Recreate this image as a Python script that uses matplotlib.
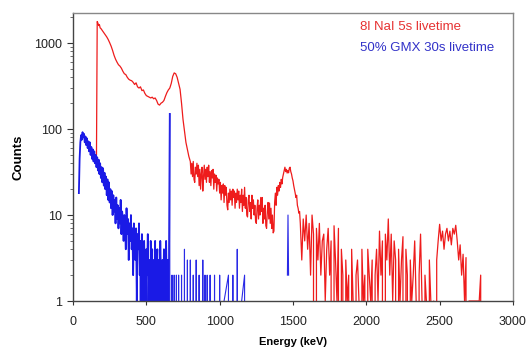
import numpy as np
import matplotlib
matplotlib.use("Agg")
import matplotlib.pyplot as plt
from matplotlib.ticker import LogLocator, FixedLocator, NullFormatter

plt.rcParams['font.family'] = ['Liberation Sans', 'DejaVu Sans']

# ---------------- data ----------------
# 8l NaI spectrum (5 s live time): energy (keV) and counts
nai_energy = ([160, 165, 170, 175, 180, 185, 190] +
              list(range(200, 800, 10)) +
              list(range(800, 1555, 5)) +
              list(range(1560, 2800, 10)))
nai_counts = [
    50, 1780, 1700, 1600, 1640, 1500, 1480,
    # 200 - 790 (step 10)
    1400, 1330, 1250, 1180, 1100, 1010, 920, 820, 720, 650,
    600, 560, 540, 510, 470, 440, 430, 400, 380, 370,
    365, 350, 330, 345, 310, 300, 310, 280, 285, 260,
    245, 240, 235, 230, 235, 225, 230, 215, 195, 190,
    200, 205, 215, 240, 265, 285, 300, 340, 410, 450,
    440, 400, 340, 290, 200, 130, 95, 70, 58, 48,
    # 800 - 1550 (step 5)
    42, 30, 40, 28, 42, 26, 24, 36, 30, 40,
    28, 38, 22, 34, 20, 30, 36, 19, 28, 38,
    26, 34, 24, 36, 28, 38, 24, 32, 22, 33,
    27, 34, 20, 30, 24, 29, 19, 27, 23, 26,
    18, 24, 15, 22, 18, 23, 14, 22, 17, 21,
    13, 11.5, 18, 14, 20, 15, 19, 13, 20, 16,
    19, 12, 18, 14, 20, 15, 19, 12, 17, 14,
    20, 11, 17, 13, 21, 12, 16, 10, 9.5, 15,
    17, 11, 14, 9, 17, 12, 15, 10, 13, 8.5,
    8, 12, 15, 9, 13, 10, 16, 11, 16, 8,
    12, 9, 13, 7.5, 7, 11, 14, 9, 13.8, 8,
    12, 7, 10, 6.2, 6.5, 14, 18, 13, 21, 17,
    22, 19, 24, 21, 26, 23, 27.5, 30, 33, 36,
    32, 34, 30.8, 33, 31, 35, 36, 32, 30, 27,
    25, 22, 20, 18, 16, 17, 13, 12, 10.5, 11,
    8,
    # 1560 - 2790 (step 10)
    3, 9, 5, 10, 4, 8, 2, 10, 6, 0,
    7, 3, 8, 2, 5, 6, 1, 4, 7, 2,
    5, 0, 7.5, 3, 1, 7, 0, 4, 2, 0,
    3, 1, 2, 0, 4, 1, 0, 2, 3, 1,
    0, 4, 1, 2, 0, 4, 2, 1, 3, 0,
    2, 4, 1, 6.5, 2, 5, 0, 6, 3, 9,
    2, 6, 1, 5, 3, 0, 4, 1, 3, 5.6,
    0, 4, 2, 0, 3, 1, 2, 5, 1, 0,
    2, 6, 1, 0, 2, 1, 0, 3, 1, 0,
    1, 0, 3, 5, 7.8, 5, 6.5, 4, 6, 7,
    5, 6.5, 4.5, 7, 6, 7.6, 5, 3, 4.5, 2,
    3.5, 1, 3.2, 0, 1, 1, 1, 1, 1, 1,
    1, 1, 2, 0,
]

# 50% GMX spectrum (30 s live time): energy (keV) and counts
gmx_energy = (list(range(40, 670, 5)) +
              [675, 680, 690, 695, 705, 710, 720, 725, 740, 745,
               760, 765, 780, 785, 800, 805, 820, 825, 840, 845,
               860, 865, 885, 890, 900, 905, 915, 920, 935, 940,
               965, 970, 1000, 1005, 1030, 1060, 1065, 1090, 1095, 1120,
               1125, 1150, 1170, 1175, 1200, 1455, 1462, 1466, 1470, 1475])
gmx_counts = [
    18, 45, 70, 85, 75, 92, 80, 88, 70, 82,
    65, 78, 60, 72, 55, 70, 50, 62, 45, 58,
    42, 55, 40, 50, 36, 47, 33, 44, 30, 40,
    27, 36, 24, 35, 22, 31, 20, 28, 17, 26,
    15, 24, 14, 20, 12, 19, 10, 17, 11, 15,
    8, 16, 9, 13, 7, 12, 8, 15, 6, 11,
    9, 5, 10, 7, 4, 12, 6, 9, 3, 8,
    5, 10, 4, 7, 2, 8, 5, 3, 7, 1,
    6, 4, 8, 2, 5, 0, 6, 3, 1, 5,
    2, 0, 4, 2, 6, 1, 3, 0, 5, 2,
    4, 0, 3, 1, 5, 0, 2, 4, 0, 3,
    1, 5, 2, 0, 3, 1, 4, 0, 2, 5,
    1, 3, 0, 4, 150, 0,
    2, 0, 2, 0, 2, 0, 2, 0, 2, 0,
    4, 0, 3, 0, 3, 0, 2, 0, 3, 0,
    2, 0, 3, 0, 2, 0, 2, 0, 2, 0,
    2, 0, 2, 0, 1, 2, 0, 2, 0, 4,
    0, 1, 2, 0, 0, np.nan, 2, 10, 2, np.nan,
]

x_ticks = [0, 500, 1000, 1500, 2000, 2500, 3000]
y_ticks = [1, 10, 100, 1000]
label_nai = "8l NaI 5s livetime"
label_gmx = "50% GMX 30s livetime"

# ---------------- plot ----------------
fig = plt.figure(figsize=(5.31, 3.49), dpi=100)
ax = fig.add_axes([0.1375, 0.1375, 0.8285, 0.8253])

ax.plot(nai_energy, nai_counts, color='#ee1c1c', lw=0.9)

ge = np.array(gmx_energy, dtype=float)
gc = np.array(gmx_counts, dtype=float)
dense = ge <= 660
ax.plot(ge[dense], gc[dense], color='#1a1ae6', lw=1.3)
ax.plot(ge[~dense | (ge == 660)], gc[~dense | (ge == 660)],
        color='#2a2ae6', lw=0.8)

ax.set_yscale('log', nonpositive='clip')
ax.set_xlim(0, 3000)
ax.set_ylim(1, 2240)
ax.xaxis.set_major_locator(FixedLocator(x_ticks))
ax.set_xticklabels([str(t) for t in x_ticks])
ax.yaxis.set_major_locator(FixedLocator(y_ticks))
ax.set_yticklabels([str(t) for t in y_ticks])
ax.yaxis.set_minor_locator(LogLocator(base=10, subs=np.arange(2, 10)))
ax.yaxis.set_minor_formatter(NullFormatter())

ax.tick_params(axis='both', which='major', labelsize=9, colors='#333333',
               labelcolor='#222222')
ax.tick_params(axis='x', which='major', direction='out', length=3, pad=8)
ax.tick_params(axis='y', which='major', direction='out', length=4, pad=4)
ax.tick_params(axis='y', which='minor', direction='out', length=2,
               color='#555555')

for side in ['left', 'bottom']:
    ax.spines[side].set_color('#444444')
    ax.spines[side].set_linewidth(1.0)
for side in ['top', 'right']:
    ax.spines[side].set_color('#888888')
    ax.spines[side].set_linewidth(1.0)

ax.set_xlabel('Energy (keV)', fontsize=8, fontweight='bold', labelpad=6)
ax.set_ylabel('Counts', fontsize=9.5, fontweight='bold', labelpad=7)

ax.text(0.652, 0.951, label_nai, transform=ax.transAxes, color='#e63232',
        fontsize=9.5, va='center', ha='left')
ax.text(0.652, 0.878, label_gmx, transform=ax.transAxes, color='#3232c8',
        fontsize=9.5, va='center', ha='left')

fig.savefig('out.png', dpi=100)
